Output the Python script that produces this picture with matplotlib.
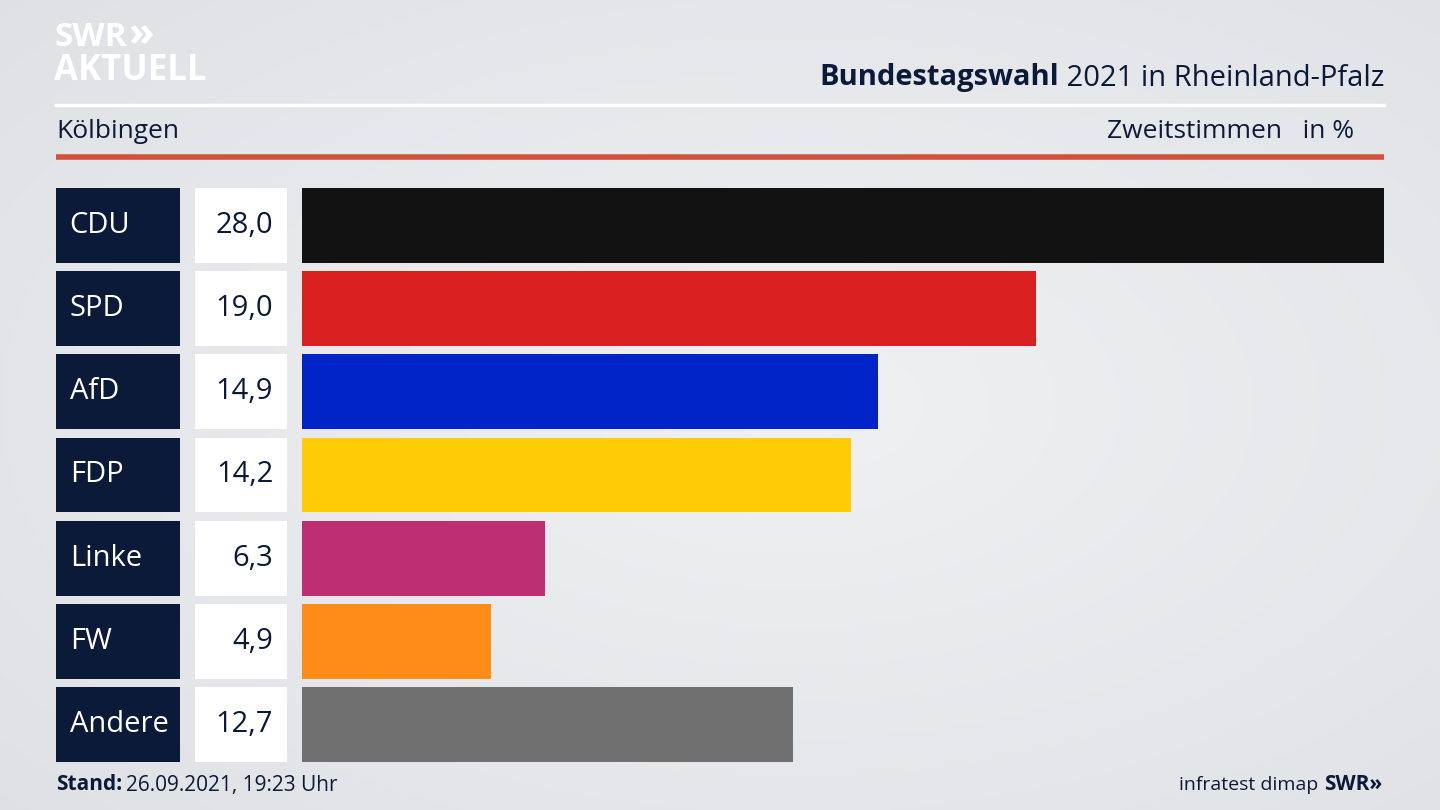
import matplotlib
matplotlib.use("Agg")
import matplotlib.pyplot as plt
import numpy as np

parties = ["CDU", "SPD", "AfD", "FDP", "Linke", "FW", "Andere"]
values = [28.0, 19.0, 14.9, 14.2, 6.3, 4.9, 12.7]
colors = ["#121212", "#d82020", "#0024c8", "#ffcc05", "#bd2e72", "#ff8c17", "#707071"]
value_labels = ["28,0", "19,0", "14,9", "14,2", "6,3", "4,9", "12,7"]

W, H = 1440, 810
FONT = "Open Sans"
NAVY = "#0c1a3a"
fig = plt.figure(figsize=(W/100, H/100), dpi=100)

bg = fig.add_axes([0, 0, 1, 1])
yy, xx = np.mgrid[0:H, 0:W]
r = np.sqrt(((xx - W*0.55)/W)**2 + ((yy - H*0.5)/H)**2)
g = np.clip(1 - r*0.9, 0, 1)
c0 = np.array([0.84, 0.85, 0.87]); c1 = np.array([0.94, 0.945, 0.95])
img = c0[None, None, :] + (c1 - c0)[None, None, :]*g[..., None]
bg.imshow(img, extent=[0, W, H, 0], aspect="auto")
bg.set_xlim(0, W); bg.set_ylim(H, 0); bg.axis("off")

# header / logo
bg.text(54, 37, "SWR", color="white", fontsize=24, fontweight="bold", family=FONT, va="center")
bg.text(128, 35, "»", color="white", fontsize=30, fontweight="bold", family=FONT, va="center")
bg.text(54, 71, "AKTUELL", color="white", fontsize=25, fontweight="bold", family=FONT, va="center")
t2 = bg.text(1384, 78, " 2021 in Rheinland-Pfalz", color=NAVY, fontsize=21, family=FONT, ha="right", va="center")
fig.canvas.draw()
bb = t2.get_window_extent()
bg.text(bb.x0, 78, "Bundestagswahl", color=NAVY, fontsize=21, fontweight="bold", family=FONT, ha="right", va="center",
        transform=matplotlib.transforms.blended_transform_factory(matplotlib.transforms.IdentityTransform(), bg.transData))
bg.plot([56, 1384], [105, 105], color="white", lw=2.5)
bg.text(56, 132, "Kölbingen", color=NAVY, fontsize=19, family=FONT, va="center")
bg.text(1354, 132, "Zweitstimmen   in %", color=NAVY, fontsize=19, family=FONT, ha="right", va="center")
bg.plot([56, 1384], [157, 157], color="#d4503c", lw=4, solid_capstyle="butt")
bg.text(56, 785, "Stand:", color=NAVY, fontsize=15, fontweight="bold", family=FONT, va="center")
bg.text(126, 785, "26.09.2021, 19:23 Uhr", color=NAVY, fontsize=15, family=FONT, va="center")
bg.text(1318, 785, "infratest dimap", color=NAVY, fontsize=14, family=FONT, ha="right", va="center")
bg.text(1324, 785, "SWR»", color=NAVY, fontsize=15, fontweight="bold", family=FONT, va="center")

top, bot = 183.8, 766.2
def add(x0, x1):
    return fig.add_axes([x0/W, 1-bot/H, (x1-x0)/W, (bot-top)/H])

y = np.arange(len(parties))
h = 0.9
ax = add(302, 1384)
ax.barh(y, values, height=h, color=colors)
ax.set_xlim(0, 28.0); ax.set_ylim(6.5, -0.5); ax.axis("off")

axl = add(56, 180)
axl.barh(y, [1]*len(y), height=h, color=NAVY)
axl.set_xlim(0, 1); axl.set_ylim(6.5, -0.5); axl.axis("off")
for i, p in enumerate(parties):
    axl.text(0.11, i, p, color="white", fontsize=21, family=FONT, va="center")

axv = add(195, 287)
axv.barh(y, [1]*len(y), height=h, color="white")
axv.set_xlim(0, 1); axv.set_ylim(6.5, -0.5); axv.axis("off")
for i, v in enumerate(value_labels):
    axv.text(0.85, i, v, color=NAVY, fontsize=21, family=FONT, va="center", ha="right")

fig.savefig("out.png", dpi=100)
